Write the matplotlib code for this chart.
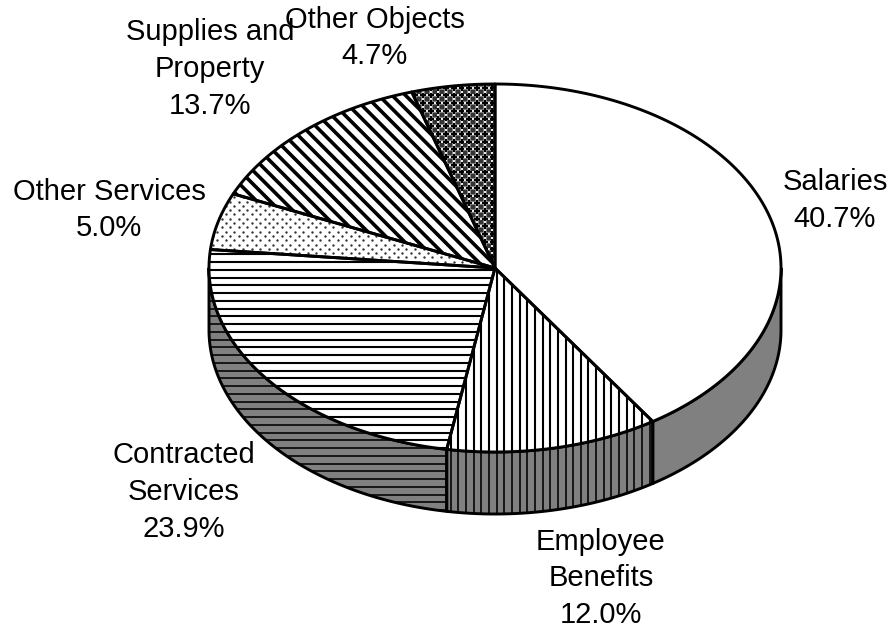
import numpy as np
import matplotlib
matplotlib.use("Agg")
import matplotlib.pyplot as plt
from matplotlib.patches import Polygon
from matplotlib.collections import LineCollection

plt.rcParams["font.family"] = ["Liberation Sans", "DejaVu Sans"]

# Budget shares by object class, clockwise from twelve o'clock
categories = ["Salaries", "Employee\nBenefits", "Contracted\nServices",
              "Other Services", "Supplies and\nProperty", "Other Objects"]
shares = [40.7, 12.0, 23.9, 5.0, 13.7, 4.7]
textures = ["none", "vertical", "horizontal", "dots", "diagonal", "checks"]
label_centres = [(835, 200.5), (601, 578.5), (184, 492), (109, 210), (210, 69), (375, 38)]

CX, CY, RX, RY, DEPTH = 495.0, 268.0, 286.0, 184.0, 62.0
EDGE = 2.1
GREY = "#808080"

fig = plt.figure(figsize=(8.9, 6.29), dpi=100)
ax = fig.add_axes([0, 0, 1, 1])
ax.set_xlim(0, 890)
ax.set_ylim(629, 0)
ax.axis("off")


def rim(theta_deg, drop=0.0):
    t = np.radians(theta_deg)
    return np.column_stack([CX + RX * np.sin(t), CY - RY * np.cos(t) + drop])


def clipped_dots(patch, xs, ys, size, colour, marker="o"):
    pts = ax.scatter(xs, ys, s=size, c=colour, marker=marker, linewidths=0,
                     zorder=patch.get_zorder())
    pts.set_clip_path(patch)


def add_texture(patch, kind, on_wall=False):
    lines = []
    lw = 1.15 if on_wall else 1.5
    if kind == "horizontal":
        lines = [[(150, y), (850, y)] for y in np.arange(277.7 - 7.75 * 10, 560, 7.75)]
    elif kind == "vertical":
        lines = [[(x, 50), (x, 560)] for x in np.arange(496.7 - 7.65 * 10, 700, 7.65)]
    elif kind == "diagonal":
        lines = [[(c, 0), (c + 600, 600)] for c in np.arange(-400, 600, 13.4)]
        lw = 2.6
    if lines:
        lc = LineCollection(lines, colors="black", linewidths=lw, zorder=patch.get_zorder())
        ax.add_collection(lc)
        lc.set_clip_path(patch)
    if kind == "dots":
        pitch = 4.3
        gx, gy = np.meshgrid(np.arange(200, 500, pitch), np.arange(180, 280, pitch))
        keep = (np.round((gx - 200) / pitch) + np.round((gy - 180) / pitch)) % 2 == 0
        clipped_dots(patch, gx[keep], gy[keep], 3.0, "#333333")
    elif kind == "checks":
        pitch = 7.7
        gx, gy = np.meshgrid(np.arange(400, 500, pitch), np.arange(80, 280, pitch))
        clipped_dots(patch, gx.ravel(), gy.ravel(), 14, "black", marker="P")
        clipped_dots(patch, gx.ravel() + pitch / 2, gy.ravel() + pitch / 2, 5, "#333333", marker="s")
        clipped_dots(patch, gx.ravel() + pitch / 2, gy.ravel(), 1.6, "#e8e8e8", marker="s")
        clipped_dots(patch, gx.ravel(), gy.ravel() + pitch / 2, 1.6, "#e8e8e8", marker="s")


# Slice boundaries in degrees clockwise from the top
bounds = np.concatenate([[0], np.cumsum(shares)]) * 3.6

# Side wall: only the front half of the disc is visible
for i, kind in enumerate(textures):
    a, b = max(bounds[i], 90.0), min(bounds[i + 1], 270.0)
    if a >= b:
        continue
    th = np.linspace(a, b, 200)
    verts = np.vstack([rim(th), rim(th[::-1], DEPTH)])
    wall = Polygon(verts, closed=True, facecolor=GREY, edgecolor="none", zorder=2)
    ax.add_patch(wall)
    add_texture(wall, kind, on_wall=True)
    outline = Polygon(verts, closed=True, facecolor="none", edgecolor="black",
                      linewidth=EDGE, joinstyle="round", zorder=3)
    ax.add_patch(outline)

# Top face of each slice
for i, kind in enumerate(textures):
    th = np.linspace(bounds[i], bounds[i + 1], 200)
    verts = np.vstack([[CX, CY], rim(th)])
    fill_colour = "#808080" if kind == "checks" else "white"
    face = Polygon(verts, closed=True, facecolor=fill_colour, edgecolor="none", zorder=4)
    ax.add_patch(face)
    add_texture(face, kind)
    outline = Polygon(verts, closed=True, facecolor="none", edgecolor="black",
                      linewidth=EDGE, joinstyle="round", zorder=5)
    ax.add_patch(outline)

# Category names with their percentages
for name, value, (x, y) in zip(categories, shares, label_centres):
    ax.text(x, y, f"{name}\n{value:.1f}%", ha="center", va="center",
            fontsize=21, linespacing=1.39, color="black", zorder=6)

fig.savefig("out.png", dpi=100, facecolor="white")
